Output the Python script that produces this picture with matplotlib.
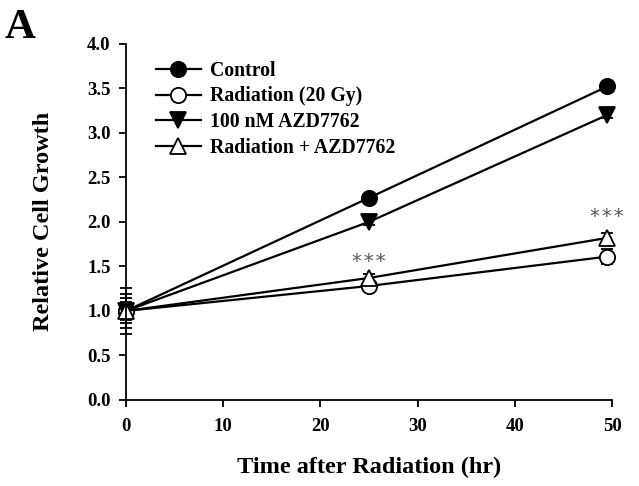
import matplotlib
matplotlib.use("Agg")
import matplotlib.pyplot as plt

plt.rcParams["font.family"] = ["Liberation Serif", "DejaVu Serif"]
plt.rcParams["font.weight"] = "bold"

# Time points (hr)
time_hr = [0, 25, 49.5]

# Relative cell growth per condition
control = [1.0, 2.27, 3.52]
radiation = [1.0, 1.28, 1.61]
azd7762 = [1.0, 2.0, 3.2]
rad_azd = [1.0, 1.37, 1.82]

# Error bars
control_err = [0.26, 0.03, 0.03]
radiation_err = [0.19, 0.05, 0.08]
azd7762_err = [0.14, 0.03, 0.03]
rad_azd_err = [0.10, 0.04, 0.06]

series_labels = ["Control", "Radiation (20 Gy)", "100 nM AZD7762", "Radiation + AZD7762"]

# Significance marks
sig_x = [25, 49.5]
sig_y = [1.555, 2.055]
sig_text = ["*\u200a*\u200a*", "*\u200a*\u200a*"]

x_ticks = [0, 10, 20, 30, 40, 50]
y_ticks = [0.0, 0.5, 1.0, 1.5, 2.0, 2.5, 3.0, 3.5, 4.0]

fig = plt.figure(figsize=(6.39, 4.86), dpi=100)
ax = fig.add_axes([0.197, 0.177, 0.761, 0.733])

styles = [
    (control, control_err, "o", "black"),
    (radiation, radiation_err, "o", "white"),
    (azd7762, azd7762_err, "v", "black"),
    (rad_azd, rad_azd_err, "^", "white"),
]

for (vals, err, mk, fc), lab in zip(styles, series_labels):
    eb = ax.errorbar(time_hr, vals, yerr=err, marker=mk, markersize=11,
                     markerfacecolor=fc, markeredgecolor="black", markeredgewidth=1.3,
                     color="black", linewidth=1.6, elinewidth=1.2, capsize=4,
                     capthick=1.2, label=lab)
    for art in eb.get_children():
        art.set_clip_on(False)

for x, y, t in zip(sig_x, sig_y, sig_text):
    ax.text(x, y, t, ha="center", va="center", fontsize=14,
            color="#555555", fontweight="normal", family="DejaVu Sans")

ax.set_xlim(0, 50)
ax.set_ylim(0, 4)
ax.set_xticks(x_ticks)
ax.set_yticks(y_ticks)
ax.set_xticklabels([str(v) for v in x_ticks])
ax.set_yticklabels([f"{v:.1f}" for v in y_ticks])
ax.spines["top"].set_visible(False)
ax.spines["right"].set_visible(False)
for s in ("left", "bottom"):
    ax.spines[s].set_linewidth(1.3)
ax.tick_params(direction="out", length=5, width=1.3, labelsize=13.5)
ax.tick_params(axis="x", pad=8)
ax.tick_params(axis="y", pad=6)
for lbl in ax.get_xticklabels() + ax.get_yticklabels():
    lbl.set_fontweight("bold")

ax.set_xlabel("Time after Radiation (hr)", fontsize=17.5, fontweight="bold", labelpad=16)
ax.set_ylabel("Relative Cell Growth", fontsize=17.5, fontweight="bold", labelpad=24)

handles, labels = ax.get_legend_handles_labels()
handles = [h[0] for h in handles]
leg = ax.legend(handles, labels, loc="upper left", bbox_to_anchor=(0.045, 0.975),
                frameon=False, fontsize=14.2, handlelength=2.3, handletextpad=0.45,
                labelspacing=0.3, borderaxespad=0)
for t in leg.get_texts():
    t.set_fontweight("bold")

fig.text(0.008, 0.922, "A", fontsize=31, fontweight="bold")

fig.savefig("out.png", dpi=100)
